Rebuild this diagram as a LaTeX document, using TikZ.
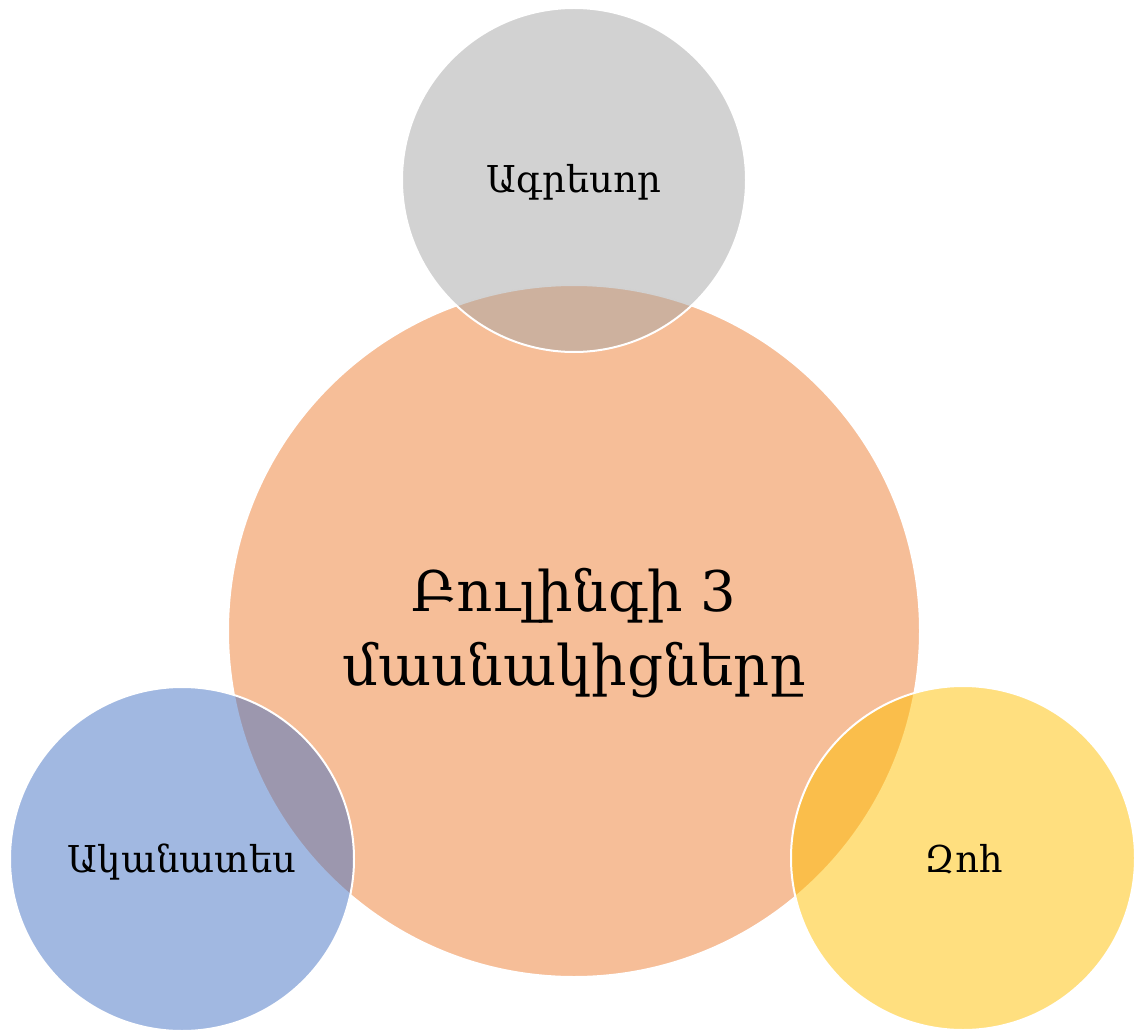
\documentclass[tikz,border=0pt]{standalone}
\usepackage{fontspec}
\setmainfont{DejaVu Serif}
\definecolor{corange}{HTML}{ED7D31}
\definecolor{cgray}{HTML}{A5A5A5}
\definecolor{cblue}{HTML}{4472C4}
\definecolor{cyellow}{HTML}{FFC000}
\tikzset{
  bubble/.style={circle, draw=white, line width=2pt, fill opacity=0.5, text opacity=1, inner sep=0pt},
  small/.style={bubble, minimum size=344pt},
  big/.style={bubble, minimum size=692pt},
  smalltext/.style={font=\fontsize{37}{44}\selectfont, anchor=base},
  bigtext/.style={font=\fontsize{56}{74}\selectfont, align=center}
}
\begin{document}
\begin{tikzpicture}[x=1pt,y=-1pt]
\useasboundingbox (0,0) rectangle (1135,1032);
\node[big, fill=corange] (center) at (574,631) {};
\node[small, fill=cgray] (aggr) at (574,180) {};
\node[small, fill=cblue] (wit) at (182,859) {};
\node[small, fill=cyellow] (vic) at (963,858) {};
\node[bigtext] (centerlabel) at ([yshift=-2pt]center.center) {Բուլինգի 3\\մասնակիցները};
\node[smalltext] (aggrlabel) at (574,193) {Ագրեսոր};
\node[smalltext] (witlabel) at (182,872) {Ականատես};
\node[smalltext] (viclabel) at (964,872) {Զոհ};
\end{tikzpicture}
\end{document}
